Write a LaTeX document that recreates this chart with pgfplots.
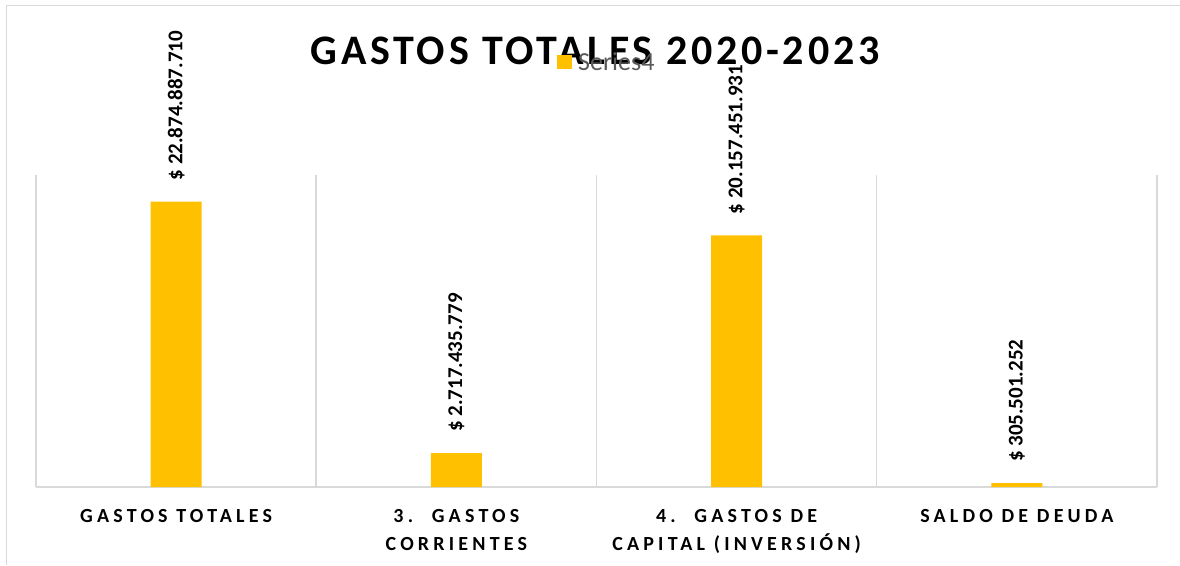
\documentclass[border=0pt]{standalone}
\usepackage{pgfplots}
\pgfplotsset{compat=1.18}
\usepackage{fontspec}
\setmainfont{Carlito}
\newfontfamily\titlefont[LetterSpace=9]{Carlito}
\newfontfamily\catfont[LetterSpace=21]{Carlito}
\definecolor{gold}{HTML}{FFC000}
\definecolor{gridgray}{HTML}{D9D9D9}
\definecolor{leggray}{HTML}{595959}
\begin{document}
\begin{tikzpicture}[x=1pt,y=1pt]
\useasboundingbox (0,0) rectangle (1180,565);
\draw[gridgray, line width=1.5pt] (6.5,0) -- (6.5,559.5) -- (1180,559.5);
\node[anchor=base, inner sep=0pt] at (595,500) {\titlefont\bfseries\fontsize{42}{42}\selectfont GASTOS TOTALES 2020-2023};
\begin{axis}[
  at={(36pt,78pt)}, anchor=south west,
  scale only axis, width=1121pt, height=312pt,
  xmin=-0.5, xmax=3.5, ymin=0, ymax=2.5e10,
  axis x line*=bottom, axis y line=none,
  x axis line style={gridgray, line width=1.5pt, -},
  xtick={0,1,2,3},
  xticklabels={GASTOS TOTALES, {3.\hspace{7pt} GASTOS\\CORRIENTES}, {4.\hspace{7pt} GASTOS DE\\CAPITAL (INVERSIÓN)}, SALDO DE DEUDA},
  xticklabel style={align=center, font=\catfont\bfseries\fontsize{20}{28}\selectfont, anchor=north, yshift=-19pt},
  major tick length=0pt,
  extra x ticks={-0.5,0.5,1.5,2.5,3.5},
  extra x tick labels={},
  extra x tick style={grid=major, major grid style={gridgray, line width=1.5pt}},
  ybar, bar width=51pt,
  point meta=explicit symbolic,
  nodes near coords,
  nodes near coords style={font=\bfseries\fontsize{21}{21}\selectfont, rotate=90, anchor=west, inner sep=0pt, xshift=21pt},
  legend style={at={(0.4648,1.362)}, anchor=west, draw=none, fill=none, inner sep=0pt,
    font=\fontsize{26}{26}\selectfont, text=leggray},
  legend image code/.code={\fill[#1] (0pt,-7pt) rectangle (15pt,7pt);},
]
\addplot[fill=gold, draw=none] coordinates {
  (0,22874887710) [\$ 22.874.887.710]
  (1,2717435779) [\$ 2.717.435.779]
  (2,20157451931) [\$ 20.157.451.931]
  (3,305501252) [\$ 305.501.252]
};
\addlegendentry{\hspace{4pt}Series4}
\end{axis}
\end{tikzpicture}
\end{document}
